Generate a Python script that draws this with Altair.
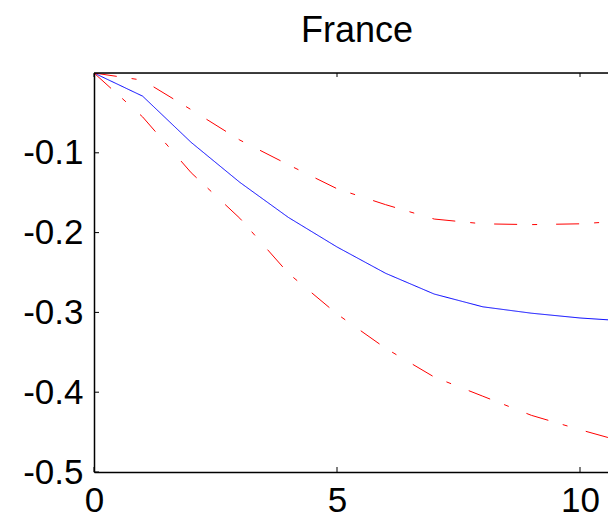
import altair as alt
import pandas as pd

steps = list(range(12))
response = [0, -0.029, -0.087, -0.137, -0.181, -0.218, -0.251, -0.277, -0.293, -0.301, -0.307, -0.311]
upper = [0, -0.009, -0.046, -0.084, -0.115, -0.145, -0.165, -0.183, -0.189, -0.190, -0.189, -0.185]
lower = [0, -0.055, -0.125, -0.182, -0.251, -0.302, -0.345, -0.381, -0.405, -0.429, -0.447, -0.464]

x_ticks = [0, 5, 10]
y_ticks = [-0.5, -0.4, -0.3, -0.2, -0.1]

W, H = 514, 399
FONT = "Liberation Sans"
LFS = 35

rows = []
for name, vals in [("response", response), ("upper", upper), ("lower", lower)]:
    for s, v in zip(steps, vals):
        rows.append({"step": s, "value": v, "series": name})
df = pd.DataFrame(rows)

xscale = alt.Scale(domain=[0, 10.576], nice=False, zero=False)
yscale = alt.Scale(domain=[-0.5, 0], nice=False, zero=False)
dash = [23, 15, 5, 19]

xaxis = alt.Axis(values=x_ticks, ticks=False, grid=False, title=None,
                 labelFontSize=LFS, labelFont=FONT, labelColor="black",
                 labelPadding=11, domainColor="black", domainWidth=1.5,
                 labelFlush=False)
yaxis = alt.Axis(values=y_ticks, ticks=False, grid=False, title=None,
                 labelFontSize=LFS, labelFont=FONT, labelColor="black",
                 labelPadding=11, domainColor="black", domainWidth=1.5,
                 format=".1f", labelExpr="replace(datum.label, '\u2212', '-')",
                 labelFlush=False)

lines = alt.Chart(df).mark_line(clip=True, strokeWidth=1).encode(
    x=alt.X("step:Q", scale=xscale, axis=xaxis),
    y=alt.Y("value:Q", scale=yscale, axis=yaxis),
    color=alt.Color("series:N", legend=None,
                    scale=alt.Scale(domain=["response", "upper", "lower"],
                                    range=["#0000ff", "#ff0000", "#ff0000"])),
    strokeDash=alt.StrokeDash("series:N", legend=None,
                              scale=alt.Scale(domain=["response", "upper", "lower"],
                                              range=[[1, 0], dash, dash])),
    detail="series:N",
)

ydf = pd.DataFrame({"value": y_ticks})
xdf = pd.DataFrame({"step": x_ticks})

yticks = alt.Chart(ydf).mark_rule(color="black", strokeWidth=1).encode(
    y=alt.Y("value:Q", scale=yscale, axis=yaxis), x=alt.value(0), x2=alt.value(5))
bticks = alt.Chart(xdf).mark_rule(color="black", strokeWidth=1).encode(
    x=alt.X("step:Q", scale=xscale, axis=xaxis), y=alt.value(H), y2=alt.value(H - 5))
tticks = alt.Chart(xdf).mark_rule(color="black", strokeWidth=1).encode(
    x=alt.X("step:Q", scale=xscale, axis=xaxis), y=alt.value(0), y2=alt.value(4))
top = alt.Chart(pd.DataFrame({"a": [0]})).mark_rule(color="black", strokeWidth=1.5).encode(
    x=alt.value(0), x2=alt.value(W), y=alt.value(0))

chart = alt.layer(lines, yticks, bticks, tticks, top).properties(
    width=W, height=H,
    title=alt.Title("France", fontSize=36, font=FONT, fontWeight="normal",
                    color="black", offset=22, anchor="middle", dx=6),
    padding={"left": 86, "top": 65, "right": 0, "bottom": 46},
    autosize=alt.AutoSizeParams(type="none"),
).configure_view(stroke=None).configure(background="white")

chart.save("out.html", embed_options={"renderer": "svg", "actions": False})
